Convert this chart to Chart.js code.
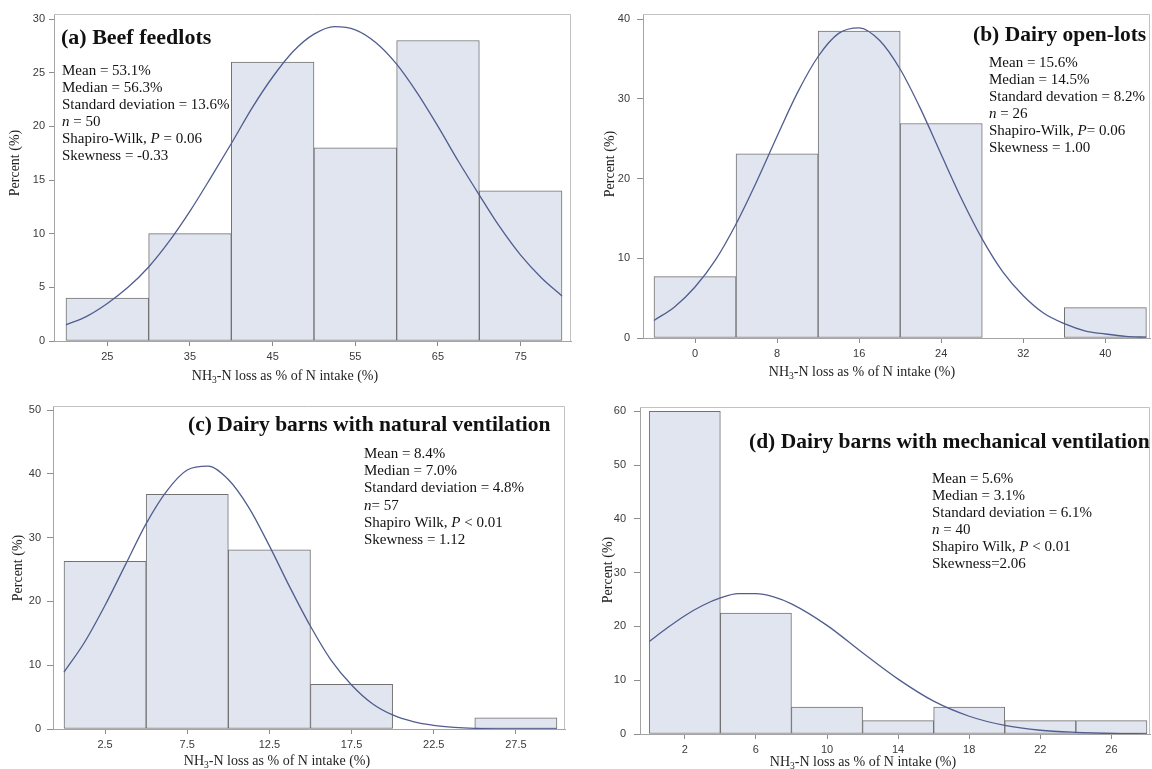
<!DOCTYPE html>
<html><head><meta charset="utf-8">
<script src="https://cdn.jsdelivr.net/npm/chart.js@4.4.1/dist/chart.umd.min.js"></script>
<style>
html,body{margin:0;padding:0;background:#fff;}
body{width:1152px;height:769px;position:relative;overflow:hidden;}
canvas{position:absolute;}
</style></head><body>
<canvas id="ca" width="576" height="384" style="left:0;top:0"></canvas>
<canvas id="cb" width="576" height="384" style="left:576px;top:0"></canvas>
<canvas id="cc" width="576" height="385" style="left:0;top:384px"></canvas>
<canvas id="cd" width="576" height="385" style="left:576px;top:384px"></canvas>
<script>
// ---------- DATA ----------
// (a) Beef feedlots
const aBinCenters = [25, 35, 45, 55, 65, 75];
const aPercent    = [4, 10, 26, 18, 28, 14];
const aXTicks     = [25, 35, 45, 55, 65, 75];
const aYTicks     = [0, 5, 10, 15, 20, 25, 30];
const aCurveX = [20,22.5,25,27.5,30,32.5,35,37.5,40,42.5,45,47.5,50,52.5,55,57.5,60,62.5,65,67.5,70,72.5,75,77.5,80];
const aCurveY = [1.5,2.3,3.5,5.0,6.9,9.3,12.1,15.2,18.4,21.7,24.6,27.0,28.6,29.3,29.0,27.8,25.8,23.1,20.0,16.7,13.6,10.6,8.0,5.9,4.2];
const aTitle = '(a) Beef feedlots';
const aStats = ['Mean = 53.1%', 'Median = 56.3%', 'Standard deviation = 13.6%', '*n* = 50', 'Shapiro-Wilk, *P* = 0.06', 'Skewness = -0.33'];

// (b) Dairy open-lots
const bBinCenters = [0, 8, 16, 24, 32, 40];
const bPercent    = [7.7, 23.1, 38.5, 26.9, 0, 3.8];
const bXTicks     = [0, 8, 16, 24, 32, 40];
const bYTicks     = [0, 10, 20, 30, 40];
const bCurveX = [-4,-2,0,2,4,6,8,10,12,14,16,18,20,22,24,26,28,30,32,34,36,38,40,42,44];
const bCurveY = [2.2,3.9,6.4,9.8,14.3,19.6,25.3,30.8,35.3,38.2,38.9,37.3,33.7,28.7,23.0,17.4,12.4,8.3,5.3,3.1,1.8,0.9,0.5,0.2,0.1];
const bTitle = '(b) Dairy open-lots';
const bStats = ['Mean = 15.6%', 'Median = 14.5%', 'Standard devation = 8.2%', '*n* = 26', 'Shapiro-Wilk, *P*= 0.06', 'Skewness = 1.00'];

// (c) Dairy barns with natural ventilation
const cBinCenters = [2.5, 7.5, 12.5, 17.5, 22.5, 27.5];
const cPercent    = [26.3, 36.8, 28.1, 7.0, 0, 1.75];
const cXTicks     = [2.5, 7.5, 12.5, 17.5, 22.5, 27.5];
const cYTicks     = [0, 10, 20, 30, 40, 50];
const cCurveX = [0,1.25,2.5,3.75,5,6.25,7.5,8.75,10,11.25,12.5,13.75,15,16.25,17.5,18.75,20,21.25,22.5,23.75,25,27.5,30];
const cCurveY = [8.9,13.6,19.4,25.8,32.2,37.3,40.6,41.2,39.1,34.7,28.7,22.2,16.1,10.8,6.9,4.0,2.2,1.15,0.56,0.25,0.1,0.02,0];
const cTitle = '(c) Dairy barns with natural ventilation';
const cStats = ['Mean = 8.4%', 'Median = 7.0%', 'Standard deviation = 4.8%', '*n*= 57', 'Shapiro Wilk, *P* < 0.01', 'Skewness = 1.12'];

// (d) Dairy barns with mechanical ventilation
const dBinCenters = [2, 6, 10, 14, 18, 22, 26];
const dPercent    = [60, 22.5, 5, 2.5, 5, 2.5, 2.5];
const dXTicks     = [2, 6, 10, 14, 18, 22, 26];
const dYTicks     = [0, 10, 20, 30, 40, 50, 60];
const dCurveX = [0,1,2,3,4,5,6,7,8,10,12,14,16,18,20,22,24,26,28];
const dCurveY = [17.2,19.7,22.0,23.9,25.3,26.1,26.1,25.5,24.2,20.2,15.1,10.2,6.1,3.3,1.6,0.7,0.3,0.1,0.03];
const dTitle = '(d) Dairy barns with mechanical ventilation';
const dStats = ['Mean = 5.6%', 'Median = 3.1%', 'Standard deviation = 6.1%', '*n* = 40', 'Shapiro Wilk, *P* < 0.01', 'Skewness=2.06'];

const yTitleText = 'Percent (%)';
const xTitleParts = ['NH', '3', '-N loss as % of N intake (%)'];

// ---------- RENDERING ----------
const SERIF = '"Liberation Serif", "Times New Roman", serif';
const SANS = '"Liberation Sans", Arial, sans-serif';

const framePlugin = {
  id: 'frame',
  beforeDatasetsDraw(chart) {
    const {ctx, chartArea: a} = chart;
    ctx.save();
    ctx.strokeStyle = '#c2c2c2';
    ctx.lineWidth = 1;
    ctx.beginPath();
    ctx.moveTo(a.left, Math.round(a.top) + 0.5);
    ctx.lineTo(Math.round(a.right) - 0.5, Math.round(a.top) + 0.5);
    ctx.lineTo(Math.round(a.right) - 0.5, a.bottom);
    ctx.stroke();
    ctx.restore();
  }
};

const textPlugin = {
  id: 'panelText',
  afterDraw(chart, args, o) {
    const ctx = chart.ctx;
    ctx.save();
    ctx.fillStyle = '#111';
    ctx.textAlign = 'left';
    ctx.textBaseline = 'alphabetic';
    // panel title
    ctx.font = 'bold ' + o.titleSize + 'px ' + SERIF;
    ctx.fillText(o.title, o.titleX, o.titleY);
    // statistics block
    o.stats.forEach((line, i) => {
      let x = o.statsX;
      const y = o.statsY + i * o.statsGap;
      line.split('*').forEach((seg, j) => {
        ctx.font = (j % 2 ? 'italic ' : '') + '15px ' + SERIF;
        ctx.fillText(seg, x, y);
        x += ctx.measureText(seg).width;
      });
    });
    // x axis title with subscript
    ctx.fillStyle = '#222';
    const fMain = '14px ' + SERIF, fSub = '9.5px ' + SERIF;
    ctx.font = fMain; const w0 = ctx.measureText(xTitleParts[0]).width;
    ctx.font = fSub;  const w1 = ctx.measureText(xTitleParts[1]).width;
    ctx.font = fMain; const w2 = ctx.measureText(xTitleParts[2]).width;
    let x = o.xTitleX - (w0 + w1 + w2) / 2;
    const yb = o.xTitleY + 5;
    ctx.font = fMain; ctx.fillText(xTitleParts[0], x, yb); x += w0;
    ctx.font = fSub;  ctx.fillText(xTitleParts[1], x, yb + 2.5); x += w1;
    ctx.font = fMain; ctx.fillText(xTitleParts[2], x, yb);
    // y axis title
    ctx.translate(o.yTitleX, o.yTitleY);
    ctx.rotate(-Math.PI / 2);
    ctx.textAlign = 'center';
    ctx.textBaseline = 'middle';
    ctx.font = '14px ' + SERIF;
    ctx.fillText(yTitleText, 0, 0);
    ctx.restore();
  }
};

function makeChart(id, c) {
  return new Chart(document.getElementById(id), {
    type: 'bar',
    data: {
      datasets: [
        {
          type: 'line',
          data: c.curveX.map((x, i) => ({x: x, y: c.curveY[i]})),
          borderColor: '#515d8e',
          borderWidth: 1.3,
          pointRadius: 0,
          cubicInterpolationMode: 'monotone',
          fill: false,
          order: 0
        },
        {
          type: 'bar',
          data: c.centers.map((x, i) => ({x: x, y: c.percent[i]})),
          backgroundColor: 'rgb(224,229,240)',
          borderColor: '#727272',
          borderWidth: 1,
          borderSkipped: false,
          barPercentage: 1,
          categoryPercentage: 1,
          order: 1
        }
      ]
    },
    options: {
      responsive: false,
      animation: false,
      devicePixelRatio: 1,
      layout: {padding: c.padding},
      plugins: {
        legend: {display: false},
        tooltip: {enabled: false},
        panelText: c.text
      },
      scales: {
        x: {
          type: 'linear', min: c.xMin, max: c.xMax, offset: false, bounds: 'data',
          afterBuildTicks: s => { s.ticks = c.xTicks.map(v => ({value: v})); },
          afterFit: s => { s.height = c.xAxisH; },
          ticks: {callback: v => String(v), font: {family: SANS, size: 11}, color: '#3a3a3a',
                  padding: 4, maxRotation: 0, autoSkip: false},
          grid: {display: true, drawOnChartArea: false, drawTicks: true, tickLength: 5, color: '#8c8c8c', offset: false},
          border: {display: true, color: '#a4a4a4', width: 1}
        },
        y: {
          type: 'linear', min: 0, max: c.yMax, bounds: 'data',
          afterBuildTicks: s => { s.ticks = c.yTicks.map(v => ({value: v})); },
          afterFit: s => { s.width = c.yAxisW; },
          ticks: {callback: v => String(v), font: {family: SANS, size: 11}, color: '#3a3a3a',
                  padding: c.yPad, autoSkip: false},
          grid: {display: true, drawOnChartArea: false, drawTicks: true, tickLength: c.yTick, color: '#8c8c8c'},
          border: {display: true, color: '#a4a4a4', width: 1}
        }
      }
    },
    plugins: [framePlugin, textPlugin]
  });
}

makeChart('ca', {
  centers: aBinCenters, percent: aPercent, xTicks: aXTicks, yTicks: aYTicks, curveX: aCurveX, curveY: aCurveY,
  padding: {left: 0, top: 14, right: 5, bottom: 0}, yAxisW: 54, xAxisH: 43,
  xMin: 18.55, xMax: 81.09, yMax: 30.47, yTick: 5, yPad: 4,
  text: {title: aTitle, titleSize: 22, titleX: 61, titleY: 44, stats: aStats, statsX: 62, statsY: 75, statsGap: 17,
         xTitleX: 285, xTitleY: 375, yTitleX: 15.5, yTitleY: 163}
});
makeChart('cb', {
  centers: bBinCenters, percent: bPercent, xTicks: bXTicks, yTicks: bYTicks, curveX: bCurveX, curveY: bCurveY,
  padding: {left: 0, top: 14, right: 2, bottom: 0}, yAxisW: 67, xAxisH: 46,
  xMin: -5.07, xMax: 44.35, yMax: 40.63, yTick: 6, yPad: 7,
  text: {title: bTitle, titleSize: 21.5, titleX: 397, titleY: 41, stats: bStats, statsX: 413, statsY: 67, statsGap: 17,
         xTitleX: 286, xTitleY: 371, yTitleX: 34, yTitleY: 164}
});
makeChart('cc', {
  centers: cBinCenters, percent: cPercent, xTicks: cXTicks, yTicks: cYTicks, curveX: cCurveX, curveY: cCurveY,
  padding: {left: 0, top: 22, right: 11, bottom: 0}, yAxisW: 53, xAxisH: 40,
  xMin: -0.67, xMax: 30.49, yMax: 50.63, yTick: 6, yPad: 6,
  text: {title: cTitle, titleSize: 21.5, titleX: 188, titleY: 47, stats: cStats, statsX: 364, statsY: 74, statsGap: 17.2,
         xTitleX: 277, xTitleY: 376, yTitleX: 18, yTitleY: 184}
});
makeChart('cd', {
  centers: dBinCenters, percent: dPercent, xTicks: dXTicks, yTicks: dYTicks, curveX: dCurveX, curveY: dCurveY,
  padding: {left: 0, top: 23, right: 2, bottom: 0}, yAxisW: 64, xAxisH: 35,
  xMin: -0.52, xMax: 28.17, yMax: 60.8, yTick: 6, yPad: 8,
  text: {title: dTitle, titleSize: 21.5, titleX: 173, titleY: 64, stats: dStats, statsX: 356, statsY: 98.5, statsGap: 17.1,
         xTitleX: 287, xTitleY: 377, yTitleX: 32, yTitleY: 186}
});
</script>
</body></html>
